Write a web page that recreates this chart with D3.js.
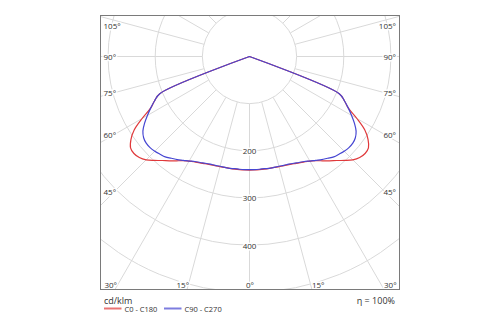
<!DOCTYPE html>
<html>
<head>
<meta charset="utf-8">
<script src="https://cdn.jsdelivr.net/npm/d3@7"></script>
<style>
  html, body { margin: 0; padding: 0; background: #fff; }
  svg { display: block; }
  text { font-family: "Open Sans", "Noto Sans", sans-serif; fill: #333; }
</style>
</head>
<body>
<svg id="chart" width="500" height="325"></svg>
<script>
// Gamma angles (degrees from nadir) for one half-plane
const gammaAngles = [0, 2.5, 5, 7.5, 10, 12.5, 15, 17.5, 20, 22.5, 25, 27.5, 30, 32.5, 35,
  37.5, 40, 42.5, 45, 47.5, 50, 52.5, 55, 57.5, 60, 62.5, 65, 67.5, 70];

// Luminous intensity, cd/klm, plane C0 - C180
const c0c180 = [241, 241, 241, 241, 241, 241, 242, 243, 244, 246, 249, 252, 256, 262, 270,
  279, 288, 299, 310, 317, 320, 318, 307, 290, 263, 236, 222, 206, 0];

// Luminous intensity, cd/klm, plane C90 - C270
const c90c270 = [240, 240, 240, 240, 241, 241, 241, 242, 243, 245, 248, 251, 256, 261, 267,
  272, 278, 281, 284, 286, 286, 283, 276, 264, 250, 236, 222, 206, 0];

const seriesNames = ["C0 - C180", "C90 - C270"];
const seriesColors = ["#e0393b", "#4646d2"];
const ringValues = [100, 200, 300, 400, 500];
const ringLabels = [200, 300, 400];
const sideAngles = [105, 90, 75, 60, 45];
const bottomAngles = [30, 15, 0];
const unitLabel = "cd/klm";
const efficiencyLabel = "η = 100%";

const svg = d3.select("#chart");

// Frame and pole geometry
const frame = { x0: 100.5, y0: 15.5, x1: 399.5, y1: 289.5 };
const cx = 249.5, cy = 56.5;
const r = d3.scaleLinear().domain([0, 100]).range([0, 47.15]);

svg.append("defs").append("clipPath").attr("id", "frameClip")
  .append("rect")
  .attr("x", frame.x0).attr("y", frame.y0)
  .attr("width", frame.x1 - frame.x0).attr("height", frame.y1 - frame.y0);

const grid = svg.append("g").attr("clip-path", "url(#frameClip)");

// Concentric intensity rings
grid.selectAll("circle.ring").data(ringValues).join("circle")
  .attr("class", "ring")
  .attr("cx", cx).attr("cy", cy)
  .attr("r", d => r(d))
  .attr("fill", "none")
  .attr("stroke", "#d9d9d9")
  .attr("stroke-width", 1);

// Radial angle lines every 15 degrees, starting at the innermost ring
const spokes = d3.range(0, 360, 15);
grid.selectAll("line.spoke").data(spokes).join("line")
  .attr("class", "spoke")
  .attr("x1", d => cx + r(100) * Math.sin(d * Math.PI / 180))
  .attr("y1", d => cy + r(100) * Math.cos(d * Math.PI / 180))
  .attr("x2", d => cx + 500 * Math.sin(d * Math.PI / 180))
  .attr("y2", d => cy + 500 * Math.cos(d * Math.PI / 180))
  .attr("stroke", "#d9d9d9")
  .attr("stroke-width", 1);

// Ring value labels along the nadir line
grid.selectAll("text.ringLabel").data(ringLabels).join("text")
  .attr("class", "ringLabel")
  .attr("x", cx)
  .attr("y", d => cy + r(d))
  .attr("text-anchor", "middle")
  .attr("dominant-baseline", "central")
  .attr("font-size", 8)
  .attr("stroke", "#fff").attr("stroke-width", 3).attr("paint-order", "stroke")
  .text(d => d);

// Angle labels on the left and right frame sides
const sideInsetL = 115, sideInsetR = 384;
sideAngles.forEach(g => {
  const a = g * Math.PI / 180;
  const yl = Math.max(25, cy + (cx - sideInsetL) / Math.sin(a) * Math.cos(a));
  svg.append("text")
    .attr("x", 103.5).attr("y", yl)
    .attr("text-anchor", "start").attr("dominant-baseline", "central")
    .attr("font-size", 8)
    .attr("stroke", "#fff").attr("stroke-width", 3).attr("paint-order", "stroke")
    .text(g + "°");
  const yr = Math.max(25, cy + (sideInsetR - cx) / Math.sin(a) * Math.cos(a));
  svg.append("text")
    .attr("x", 396).attr("y", yr)
    .attr("text-anchor", "end").attr("dominant-baseline", "central")
    .attr("font-size", 8)
    .attr("stroke", "#fff").attr("stroke-width", 3).attr("paint-order", "stroke")
    .text(g + "°");
});

// Angle labels along the bottom frame side
bottomAngles.forEach(g => {
  const a = g * Math.PI / 180;
  const off = (frame.y1 - cy) * Math.tan(a);
  const sides = g === 0 ? [0] : [-1, 1];
  sides.forEach(s => {
    const x = cx + s * off;
    svg.append("text")
      .attr("x", s < 0 ? x + 2 : (s > 0 ? x : x + 0.5))
      .attr("y", 284.5)
      .attr("text-anchor", s < 0 ? "end" : (s > 0 ? "start" : "middle"))
      .attr("dominant-baseline", "central")
      .attr("font-size", 8)
      .attr("stroke", "#fff").attr("stroke-width", 3).attr("paint-order", "stroke")
      .text(g + "°");
  });
});

// Intensity curves, mirrored across the nadir for the opposite half-plane
const radial = d3.lineRadial()
  .angle(d => Math.PI - d.g * Math.PI / 180)
  .radius(d => r(d.v))
  .curve(d3.curveCatmullRom.alpha(0.5));

function fullCurve(values) {
  const right = gammaAngles.map((g, i) => ({ g: g, v: values[i] }));
  const left = right.slice(1).reverse().map(d => ({ g: -d.g, v: d.v }));
  return left.concat(right);
}

const curves = svg.append("g")
  .attr("transform", `translate(${cx},${cy})`);

[c0c180, c90c270].forEach((vals, i) => {
  curves.append("path")
    .attr("d", radial(fullCurve(vals)))
    .attr("fill", "none")
    .attr("stroke", seriesColors[i])
    .attr("stroke-width", 1.2)
    .attr("stroke-linejoin", "round");
});

// Frame
svg.append("rect")
  .attr("x", frame.x0).attr("y", frame.y0)
  .attr("width", frame.x1 - frame.x0).attr("height", frame.y1 - frame.y0)
  .attr("fill", "none")
  .attr("stroke", "#7a7a7a")
  .attr("stroke-width", 1);

// Unit, efficiency and legend
svg.append("text")
  .attr("x", 104).attr("y", 300.5)
  .attr("dominant-baseline", "central")
  .attr("font-size", 9)
  .text(unitLabel);

svg.append("text")
  .attr("x", 395).attr("y", 300)
  .attr("text-anchor", "end")
  .attr("dominant-baseline", "central")
  .attr("font-size", 9)
  .text(efficiencyLabel);

const legendX = [104, 164];
seriesNames.forEach((name, i) => {
  const lg = svg.append("g").attr("transform", `translate(${legendX[i]},308.5)`);
  lg.append("line")
    .attr("x1", 0).attr("x2", 17.5)
    .attr("y1", 0).attr("y2", 0)
    .attr("stroke", seriesColors[i])
    .attr("stroke-opacity", 0.7)
    .attr("stroke-width", 2);
  lg.append("text")
    .attr("x", 20.5).attr("y", 0)
    .attr("dominant-baseline", "central")
    .attr("font-size", 7.5)
    .text(name);
});
</script>
</body>
</html>
